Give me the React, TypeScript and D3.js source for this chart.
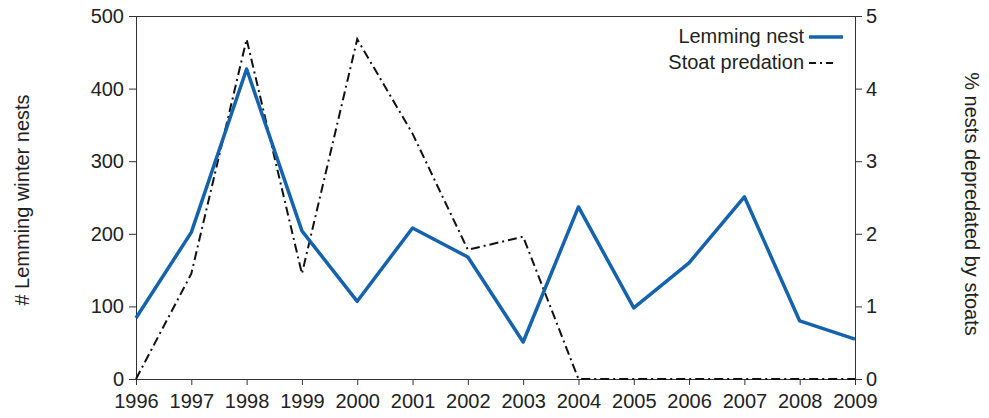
import { useEffect, useRef } from 'react'
import * as d3 from 'd3'

const years = [1996, 1997, 1998, 1999, 2000, 2001, 2002, 2003, 2004, 2005, 2006, 2007, 2008, 2009]
const lemmingNests = [84, 202, 427, 204, 107, 208, 168, 51, 237, 98, 160, 251, 80, 55]
const stoatPredation = [0, 1.45, 4.68, 1.45, 4.68, 3.38, 1.78, 1.96, 0, 0, 0, 0, 0, 0]
const leftTicks = [0, 100, 200, 300, 400, 500]
const rightTicks = [0, 1, 2, 3, 4, 5]

const BLUE = '#1563ac'
const FONT = '"Liberation Sans", Arial, sans-serif'

export default function App() {
  const svgRef = useRef<SVGSVGElement>(null)

  useEffect(() => {
    if (!svgRef.current) return
    const svg = d3.select(svgRef.current)
    svg.selectAll('*').remove()

    const margin = { top: 16, right: 134, bottom: 39, left: 136 }
    const w = 989, h = 418
    const innerWidth = w - margin.left - margin.right
    const innerHeight = h - margin.top - margin.bottom

    const x = d3.scaleLinear().domain([1996, 2009]).range([0, innerWidth])
    const yL = d3.scaleLinear().domain([0, 500]).range([innerHeight, 0])
    const yR = d3.scaleLinear().domain([0, 5]).range([innerHeight, 0])

    const g = svg.append('g').attr('transform', `translate(${margin.left},${margin.top})`)

    // top frame line
    g.append('line')
      .attr('x1', 0).attr('x2', innerWidth).attr('y1', 0.5).attr('y2', 0.5)
      .attr('stroke', '#333').attr('stroke-width', 1)

    const styleAxis = (sel: any) => {
      sel.select('.domain').attr('stroke', '#333')
      sel.selectAll('.tick line').attr('stroke', '#333')
      sel.selectAll('text')
        .attr('fill', '#222')
        .style('font-family', FONT)
        .style('font-size', '20px')
    }

    g.append('g')
      .attr('transform', `translate(0,${innerHeight})`)
      .call(d3.axisBottom(x).tickValues(years).tickFormat(d3.format('d')).tickSizeOuter(0).tickSize(6).tickPadding(9))
      .call(styleAxis)

    g.append('g')
      .call(d3.axisLeft(yL).tickValues(leftTicks).tickSizeOuter(0).tickSize(7).tickPadding(5))
      .call(styleAxis)

    g.append('g')
      .attr('transform', `translate(${innerWidth},0)`)
      .call(d3.axisRight(yR).tickValues(rightTicks).tickFormat(d3.format('d')).tickSizeOuter(0).tickSize(7).tickPadding(4))
      .call(styleAxis)

    // axis titles
    svg.append('text')
      .attr('transform', 'translate(22,200) rotate(-90)')
      .attr('text-anchor', 'middle')
      .attr('dy', '0.35em')
      .attr('fill', '#222')
      .style('font-family', FONT)
      .style('font-size', '20px')
      .text('# Lemming winter nests')

    svg.append('text')
      .attr('transform', 'translate(972,204) rotate(90)')
      .attr('text-anchor', 'middle')
      .attr('dy', '0.35em')
      .attr('fill', '#222')
      .style('font-family', FONT)
      .style('font-size', '20px')
      .text('% nests depredated by stoats')

    const stoatLine = d3.line<number>()
      .x((_, i) => x(years[i]))
      .y(d => yR(d))

    g.append('path')
      .datum(stoatPredation)
      .attr('fill', 'none')
      .attr('stroke', '#111')
      .attr('stroke-width', 2)
      .attr('stroke-dasharray', '9,4,2,4')
      .attr('d', stoatLine)

    const lemmingLine = d3.line<number>()
      .x((_, i) => x(years[i]))
      .y(d => yL(d))

    g.append('path')
      .datum(lemmingNests)
      .attr('fill', 'none')
      .attr('stroke', BLUE)
      .attr('stroke-width', 3.5)
      .attr('stroke-linejoin', 'round')
      .attr('d', lemmingLine)

    // legend
    const legend = [
      { label: 'Lemming nest', color: BLUE, width: 3.5, len: 34, dash: null as string | null },
      { label: 'Stoat predation', color: '#111', width: 2, len: 27, dash: '7,4,2,4' }
    ]
    const lg = svg.append('g').attr('transform', 'translate(808,37)')
    legend.forEach((item, i) => {
      const row = lg.append('g').attr('transform', `translate(0,${i * 26})`)
      row.append('text')
        .attr('x', -4).attr('y', 0).attr('dy', '0.32em')
        .attr('text-anchor', 'end')
        .attr('fill', '#222')
        .style('font-family', FONT)
        .style('font-size', '20px')
        .text(item.label)
      row.append('line')
        .attr('x1', 1).attr('x2', 1 + item.len).attr('y1', 0).attr('y2', 0)
        .attr('stroke', item.color)
        .attr('stroke-width', item.width)
        .attr('stroke-dasharray', item.dash)
    })
  }, [])

  return (
    <svg
      ref={svgRef}
      width={989}
      height={418}
      style={{ position: 'absolute', left: 0, top: 0, background: '#fff' }}
    />
  )
}
